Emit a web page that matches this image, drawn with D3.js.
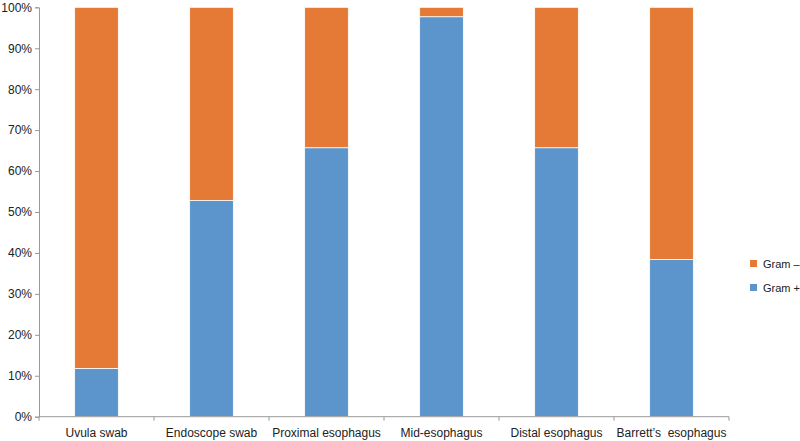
<!DOCTYPE html>
<html><head><meta charset="utf-8">
<script src="https://cdn.jsdelivr.net/npm/d3@7"></script>
<style>
html,body{margin:0;padding:0;background:#fff;}
text{font-family:"Liberation Sans",Arial,Helvetica,sans-serif;fill:#222;white-space:pre;}
</style></head>
<body><svg id="c" width="800" height="441"></svg>
<script>
const categories = ["Uvula swab","Endoscope swab","Proximal esophagus","Mid-esophagus","Distal esophagus","Barrett\u2019s  esophagus"];
const gramPos = [11.8, 52.8, 65.7, 97.7, 65.7, 38.4];
const gramNeg = gramPos.map(v => 100 - v);
const seriesNames = ["Gram +","Gram \u2013"];
const yTicks = [0,10,20,30,40,50,60,70,80,90,100];
const colors = {"Gram +":"#5B95CC","Gram \u2013":"#E47A35"};

const svg = d3.select("#c");
const m = {left:39, right:71, top:7.3, bottom:24.3};
const W = 800, H = 441;
const x = d3.scaleBand().domain(categories).range([m.left, W - m.right]).paddingInner(0.62).paddingOuter(0.31);
const y = d3.scaleLinear().domain([0,100]).range([H - m.bottom, m.top]);

const rows = categories.map((c,i)=>({cat:c, "Gram +":gramPos[i], "Gram \u2013":gramNeg[i]}));
const stack = d3.stack().keys(seriesNames)(rows);

svg.append("g").selectAll("g").data(stack).join("g")
  .attr("fill", d => colors[d.key])
  .selectAll("rect").data(d => d).join("rect")
  .attr("x", d => x(d.data.cat))
  .attr("width", x.bandwidth())
  .attr("y", d => y(d[1]))
  .attr("height", d => y(d[0]) - y(d[1]))
  .attr("stroke","#fff").attr("stroke-width",0.8);

// y axis
const ya = svg.append("g").attr("transform",`translate(${m.left},0)`)
  .call(d3.axisLeft(y).tickValues(yTicks).tickFormat(d=>d+"%").tickSize(4).tickPadding(3));
ya.select(".domain").attr("stroke","#9a9a9a");
ya.selectAll(".tick line").attr("stroke","#9a9a9a");
ya.selectAll("text").style("font-size","12px").attr("fill","#222");

// x axis
const xb = d3.scaleLinear().domain([0,categories.length]).range([m.left, W - m.right]);
const xa = svg.append("g").attr("transform",`translate(0,${H - m.bottom})`);
xa.append("line").attr("x1",m.left).attr("x2",W-m.right).attr("stroke","#9a9a9a");
xa.selectAll("line.t").data(d3.range(categories.length+1)).join("line").attr("class","t")
  .attr("x1",d=>xb(d)).attr("x2",d=>xb(d)).attr("y1",0).attr("y2",4).attr("stroke","#9a9a9a");
xa.selectAll("text").data(categories).join("text")
  .attr("x", d => x(d) + x.bandwidth()/2).attr("y",20)
  .attr("text-anchor","middle").style("font-size","12px").text(d=>d);

// legend
const leg = svg.append("g");
const legItems = ["Gram \u2013","Gram +"];
legItems.forEach((k,i)=>{
  const ly = 264 + i*24;
  leg.append("rect").attr("x",750).attr("y",ly-4).attr("width",7).attr("height",7).attr("fill",colors[k]);
  leg.append("text").attr("x",763).attr("y",ly+4).style("font-size","11px").text(k);
});
</script></body></html>
